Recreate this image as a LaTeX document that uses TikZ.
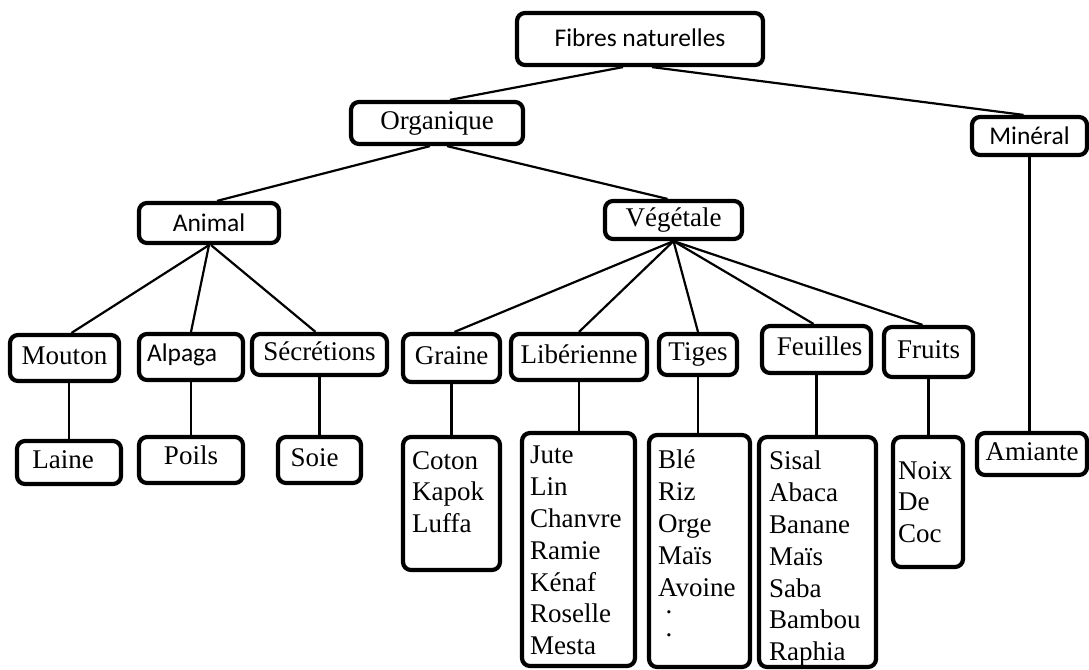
\documentclass[tikz,border=0pt]{standalone}
\usepackage{fontspec}
\setmainfont{Liberation Serif}
\newfontfamily\calib{Carlito}
\begin{document}
\begin{tikzpicture}[x=1pt,y=-1pt,
  box/.style={draw=black, line width=4.2pt, rounded corners=8pt, inner sep=0pt, fill=white},
  serif/.style={font=\fontsize{27}{31.8}\selectfont, text height=18pt, text depth=6pt},
  sanstext/.style={font=\calib\fontsize{25.5}{30}\selectfont, text height=17pt, text depth=1pt},
  listtext/.style={anchor=north west, inner sep=0pt, align=left, font=\fontsize{27}{31.8}\selectfont},
  conn/.style={draw=black, line width=2.2pt}]
\useasboundingbox (0,0) rectangle (1089,669);
\fill[white] (0,0) rectangle (1089,669);

% top levels
\node[box, sanstext, minimum width=246pt, minimum height=52pt] (fib) at (640,39) {Fibres naturelles};
\node[box, serif, minimum width=172pt, minimum height=42pt] (org) at (437,123) {Organique};
\node[box, sanstext, minimum width=115pt, minimum height=38pt] (min) at (1029.5,136) {Minéral};
\node[box, sanstext, minimum width=140pt, minimum height=40pt] (ani) at (209,223) {Animal};
\node[box, serif, minimum width=137pt, minimum height=38pt] (veg) at (673.5,220) {Végétale};

% animal children
\node[box, serif, minimum width=109pt, minimum height=46pt] (mou) at (64.5,358) {Mouton};
\node[box, sanstext, minimum width=104pt, minimum height=46pt] (alp) at (191,357) {\hspace*{-18pt}\raisebox{4pt}{Alpaga}};
\node[box, serif, minimum width=135pt, minimum height=41pt] (sec) at (319.5,354.5) {Sécrétions};
\node[box, serif, minimum width=104pt, minimum height=43pt] (lai) at (69,462.5) {\hspace*{-12pt}Laine};
\node[box, serif, minimum width=104pt, minimum height=46pt] (poi) at (191,460) {\raisebox{2pt}{Poils}};
\node[box, serif, minimum width=83pt, minimum height=46pt] (soi) at (319.5,460) {\hspace*{-10pt}Soie};

% vegetale children
\node[box, serif, minimum width=97pt, minimum height=48pt] (gra) at (451.5,358) {Graine};
\node[box, serif, minimum width=136pt, minimum height=46pt] (lib) at (579,357) {Libérienne};
\node[box, serif, minimum width=78pt, minimum height=41pt] (tig) at (698,354.5) {Tiges};
\node[box, serif, minimum width=109pt, minimum height=47pt] (feu) at (816.5,349.5) {\hspace*{6pt}Feuilles};
\node[box, serif, minimum width=89pt, minimum height=50pt] (fru) at (928.5,352) {Fruits};
\node[box, serif, minimum width=110pt, minimum height=42pt] (ami) at (1032,454) {Amiante};

% list boxes
\node[box, minimum width=97pt, minimum height=133pt] (lcot) at (451.5,503.5) {};
\node[box, minimum width=113pt, minimum height=233pt] (ljut) at (578.5,549.5) {};
\node[box, minimum width=101pt, minimum height=232pt] (lble) at (699.5,551) {};
\node[box, minimum width=117pt, minimum height=230pt] (lsis) at (817.5,552) {};
\node[box, minimum width=70pt, minimum height=130pt] (lnoi) at (928,502) {};

\node[listtext] (tcot) at (412,451) {Coton\\Kapok\\Luffa};
\node[listtext] (tjut) at (530,446) {Jute\\Lin\\Chanvre\\Ramie\\Kénaf\\Roselle\\Mesta};
\node[listtext] (tble) at (658,450) {Blé\\Riz\\Orge\\Maïs\\Avoine};
\node[font=\fontsize{27}{31.8}\selectfont, inner sep=0pt, anchor=base] (dot1) at (669,613) {.};
\node[font=\fontsize{27}{31.8}\selectfont, inner sep=0pt, anchor=base] (dot2) at (669,636) {.};
\node[listtext] (tsis) at (769,451) {Sisal\\Abaca\\Banane\\Maïs\\Saba\\Bambou\\Raphia};
\node[listtext] (tnoi) at (898,461) {Noix\\De\\Coc};

% connectors
\draw[conn] ([xshift=-17pt]fib.south) -- ([xshift=13pt]org.north);
\draw[conn] ([xshift=12pt]fib.south) -- ([xshift=-6pt]min.north);
\draw[conn] ([xshift=-7pt]org.south) -- ([xshift=8pt]ani.north);
\draw[conn] ([xshift=10pt]org.south) -- ([xshift=-6pt]veg.north);
\draw[conn] (ani.south) -- ([xshift=7pt]mou.north);
\draw[conn] (ani.south) -- (alp.north);
\draw[conn] ([xshift=2pt]ani.south) -- ([xshift=-4pt]sec.north);
\draw[conn] (veg.south) -- ([xshift=3pt]gra.north);
\draw[conn] (veg.south) -- (lib.north);
\draw[conn] (veg.south) -- (tig.north);
\draw[conn] (veg.south) -- ([xshift=-3pt]feu.north);
\draw[conn] (veg.south) -- ([xshift=-6pt]fru.north);
\draw[conn] (lai.north |- mou.south) -- (lai.north);
\draw[conn] (alp.south) -- (poi.north);
\draw[conn] (sec.south) -- (soi.north);
\draw[conn] (gra.south) -- (lcot.north);
\draw[conn] (lib.south) -- (lib.south |- ljut.north);
\draw[conn] (tig.south) -- (tig.south |- lble.north);
\draw[conn] (feu.south) -- (feu.south |- lsis.north);
\draw[conn] (fru.south) -- (fru.south |- lnoi.north);
\draw[conn] (min.south) -- (min.south |- ami.north);
\end{tikzpicture}
\end{document}
